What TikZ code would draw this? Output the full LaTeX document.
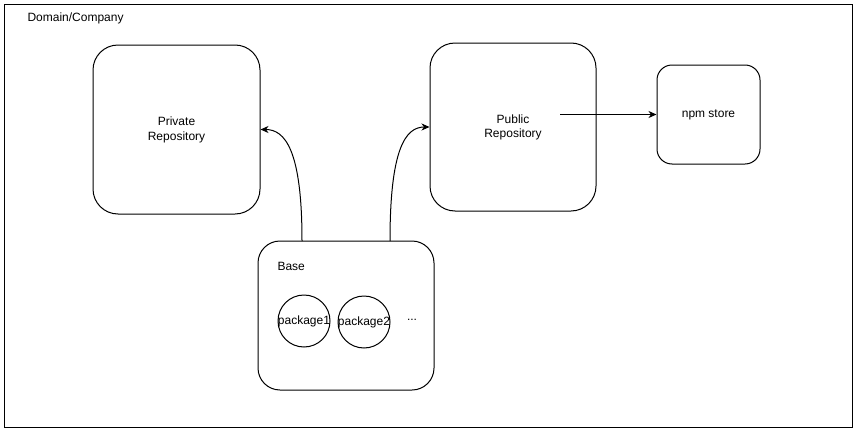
\documentclass[tikz,border=0pt]{standalone}
\usepackage{fontspec}
\setmainfont{Liberation Sans}
\usetikzlibrary{arrows.meta}
\begin{document}
\begin{tikzpicture}[x=1pt,y=-1pt,
  every node/.style={font=\fontsize{12}{14.5}\selectfont, text=black},
  box/.style={draw, line width=1pt, rounded corners=#1, inner sep=0pt, align=center},
  pkg/.style={draw, line width=1pt, circle, minimum size=52pt, inner sep=0pt},
  conn/.style={line width=1pt, -{Stealth[length=8pt,width=7pt,inset=2.5pt]}}]
\useasboundingbox (0,0) rectangle (857,431);
\node[draw, line width=1pt, minimum width=848pt, minimum height=423pt, inner sep=0pt] (frame) at (428,215.5) {};
\node[anchor=west] (domain) at (24,18) {Domain/Company};
\node[box=25pt, minimum width=167pt, minimum height=169pt, text depth=2pt] (priv) at (176.5,129.5) {Private\\Repository};
\node[box=25pt, minimum width=166pt, minimum height=168pt, text depth=2pt] (pub) at (513,127) {Public\\Repository};
\node[box=15pt, minimum width=103pt, minimum height=99pt] (npm) at (708.5,114.5) {npm store};
\node[box=22pt, minimum width=176pt, minimum height=149pt] (base) at (346,315.5) {};
\node[anchor=west] (basel) at (274,266) {Base};
\node[pkg] (p1) at (304,321) {};
\node (p1t) at (p1) {package1};
\node[pkg] (p2) at (364,322) {};
\node (p2t) at (p2) {package2};
\node (dots) at (412,320) {...};
\coordinate (s1) at (302,241);
\coordinate (s2) at (390,241);
\coordinate (s3) at (560,114.5);
\draw[conn] (s1) .. controls (302,150) and (285,129.5) .. (priv.east);
\draw[conn] (s2) .. controls (390,150) and (405,127) .. (pub.east -| pub.west);
\draw[conn] (s3) -- (npm.west);
\end{tikzpicture}
\end{document}
